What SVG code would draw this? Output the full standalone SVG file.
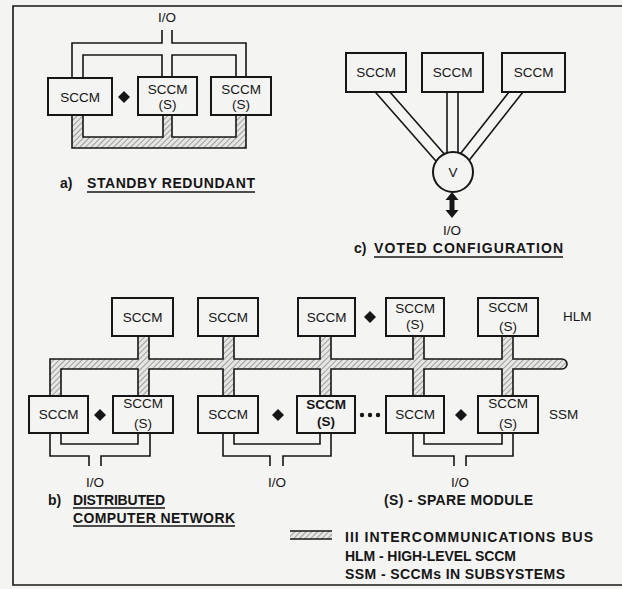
<svg xmlns="http://www.w3.org/2000/svg" width="622" height="589" viewBox="0 0 622 589">
<defs>
<pattern id="hatch" patternUnits="userSpaceOnUse" width="4" height="4" patternTransform="rotate(45)">
<rect width="4" height="4" fill="#e6e6e4"/>
<line x1="0" y1="0" x2="0" y2="4" stroke="#8a8a8a" stroke-width="1.6"/>
</pattern>
</defs>
<style>
.box{fill:#f4f4f2;stroke:#161616;stroke-width:2}
.w{fill:none;stroke:#161616;stroke-width:1.6}
.bus{fill:url(#hatch);stroke:#161616;stroke-width:1.6}
.t{font-family:"Liberation Sans",Arial,sans-serif;font-size:13.5px;fill:#161616;text-anchor:middle}
.l{font-family:"Liberation Sans",Arial,sans-serif;font-size:14px;fill:#161616;font-weight:bold}
.dia{fill:#161616}
.ul{stroke:#161616;stroke-width:1.6}
</style>
<rect width="622" height="589" fill="#f4f4f2"/>
<path class="w" d="M622,6 H13 V585 H622" stroke-width="2"/>

<g id="connectors">
<path class="w" d="M162,30 V43 H72 V78 M83,78 V55 H162 V78 M172,30 V43 H246 V78 M236,78 V55 H172 V78"/>
<path class="bus" d="M72,115 V148 H246 V115 H236 V137 H172 V115 H163 V137 H83 V115 Z"/>
<path class="w" d="M375.2,92 L436.1,161.3 M389.9,92 L444.3,154 M447,92 V152.9 M458,92 V152.6 M509,92 L460.6,153.5 M523,92 L469.2,160.3"/>
<polygon class="dia" points="452,192 458.5,200 454.5,200 454.5,210 458.5,210 452,218 445.5,210 449.5,210 449.5,200 445.5,200"/>
<path class="bus" d="M50,396 V359 H138 V336 H149 V359 H223 V336 H234 V359 H320 V336 H331 V359 H413 V336 H424 V359 H502 V336 H513 V359 H562 A5,5 0 0 1 562,369 H513 V396 H502 V369 H424 V396 H413 V369 H331 V396 H320 V369 H234 V396 H223 V369 H149 V396 H138 V369 H61 V396 Z"/>
<path class="w" d="M50,433 V456 H89 V466 M101,466 V456 H150 V433 M61,433 V444 H138 V433"/>
<path class="w" d="M223,433 V456 H270 V466 M283,466 V456 H331 V433 M234,433 V444 H320 V433"/>
<path class="w" d="M413,433 V456 H454 V466 M466,466 V456 H513 V433 M424,433 V444 H502 V433"/>
<rect x="290" y="531" width="42" height="8" fill="url(#hatch)"/>
<line class="ul" x1="290" y1="531" x2="332" y2="531"/>
<line class="ul" x1="290" y1="539" x2="332" y2="539"/>
</g>

<g id="a-sccm1"><rect class="box" x="48" y="78" width="64" height="37"/><text class="t" x="80" y="102">SCCM</text></g>
<g id="a-sccm2"><rect class="box" x="138" y="77" width="59" height="38"/><text class="t" x="167.5" y="94">SCCM</text><text class="t" x="167.5" y="109">(S)</text></g>
<g id="a-sccm3"><rect class="box" x="211" y="77" width="60" height="38"/><text class="t" x="241" y="94">SCCM</text><text class="t" x="241" y="109">(S)</text></g>
<g id="a-dia"><polygon class="dia" points="124,91 130,97 124,103 118,97"/></g>
<g id="a-labels">
<text class="t" x="167" y="22" font-size="14">I/O</text>
<text class="l" x="60" y="188">a)</text>
<text class="l" x="87" y="188" textLength="168" lengthAdjust="spacing">STANDBY REDUNDANT</text>
<line class="ul" x1="87" y1="192" x2="255" y2="192"/>
</g>

<g id="c-sccm1"><rect class="box" x="346" y="53" width="60" height="39" stroke-width="2.6"/><text class="t" x="376" y="77">SCCM</text></g>
<g id="c-sccm2"><rect class="box" x="422" y="53" width="61" height="39"/><text class="t" x="452.5" y="77">SCCM</text></g>
<g id="c-sccm3"><rect class="box" x="502" y="53" width="63" height="39"/><text class="t" x="533.5" y="77">SCCM</text></g>
<g id="c-voter"><circle class="box" cx="453" cy="172" r="20"/><text class="t" x="453" y="177">V</text></g>
<g id="c-labels">
<text class="t" x="452" y="235" font-size="14">I/O</text>
<text class="l" x="354" y="253">c)</text>
<text class="l" x="374" y="253" textLength="189" lengthAdjust="spacing">VOTED CONFIGURATION</text>
<line class="ul" x1="374" y1="257" x2="563" y2="257"/>
</g>

<g id="b-hlm1"><rect class="box" x="112" y="298" width="61" height="38"/><text class="t" x="142.5" y="321.5">SCCM</text></g>
<g id="b-hlm2"><rect class="box" x="198" y="298" width="60" height="38"/><text class="t" x="228" y="321.5">SCCM</text></g>
<g id="b-hlm3"><rect class="box" x="298" y="298" width="57" height="38"/><text class="t" x="326.5" y="321.5">SCCM</text></g>
<g id="b-hlm4"><rect class="box" x="386" y="298" width="58" height="38"/><text class="t" x="415" y="313">SCCM</text><text class="t" x="415" y="329">(S)</text></g>
<g id="b-hlm5"><rect class="box" x="478" y="298" width="60" height="38"/><text class="t" x="508" y="312">SCCM</text><text class="t" x="508" y="331">(S)</text></g>
<g id="b-dia1"><polygon class="dia" points="370,311 376,317 370,323 364,317"/></g>

<g id="b-ssm1"><rect class="box" x="29" y="396" width="59" height="37"/><text class="t" x="58.5" y="419">SCCM</text></g>
<g id="b-ssm2"><rect class="box" x="113" y="396" width="60" height="37"/><text class="t" x="143" y="408">SCCM</text><text class="t" x="143" y="428">(S)</text></g>
<g id="b-ssm3"><rect class="box" x="198" y="396" width="60" height="37"/><text class="t" x="228" y="419">SCCM</text></g>
<g id="b-ssm4"><rect class="box" x="297" y="396" width="58" height="37"/><text class="t" x="326" y="409" font-weight="bold">SCCM</text><text class="t" x="326" y="426" font-weight="bold">(S)</text></g>
<g id="b-ssm5"><rect class="box" x="386" y="396" width="58" height="37"/><text class="t" x="415" y="419">SCCM</text></g>
<g id="b-ssm6"><rect class="box" x="478" y="396" width="60" height="37"/><text class="t" x="508" y="408">SCCM</text><text class="t" x="508" y="428">(S)</text></g>
<g id="b-dia2"><polygon class="dia" points="100,409 106,415 100,421 94,415"/></g>
<g id="b-dia3"><polygon class="dia" points="278,409 284,415 278,421 272,415"/></g>
<g id="b-dia4"><polygon class="dia" points="461,409 467,415 461,421 455,415"/></g>
<g id="b-dots"><circle class="dia" cx="362" cy="415" r="2.2"/><circle class="dia" cx="370" cy="415" r="2.2"/><circle class="dia" cx="378" cy="415" r="2.2"/></g>

<g id="b-labels">
<text class="t" x="563" y="321" style="text-anchor:start">HLM</text>
<text class="t" x="549" y="419" style="text-anchor:start">SSM</text>
<text class="t" x="95" y="487" font-size="14">I/O</text>
<text class="t" x="277" y="487" font-size="14">I/O</text>
<text class="t" x="460" y="487" font-size="14">I/O</text>
<text class="l" x="48" y="505">b)</text>
<text class="l" x="73" y="505" textLength="92" lengthAdjust="spacing">DISTRIBUTED</text>
<line class="ul" x1="73" y1="508" x2="165" y2="508"/>
<text class="l" x="73" y="523" textLength="162" lengthAdjust="spacing">COMPUTER NETWORK</text>
<line class="ul" x1="73" y1="526" x2="235" y2="526"/>
<text class="l" x="384" y="505" textLength="149" lengthAdjust="spacing">(S) - SPARE MODULE</text>
</g>

<g id="legend">
<text class="l" x="345" y="542" textLength="248" lengthAdjust="spacing">III INTERCOMMUNICATIONS BUS</text>
<text class="l" x="345" y="561" textLength="171" lengthAdjust="spacing">HLM - HIGH-LEVEL SCCM</text>
<text class="l" x="345" y="579" textLength="220" lengthAdjust="spacing">SSM - SCCMs IN SUBSYSTEMS</text>
</g>
</svg>
